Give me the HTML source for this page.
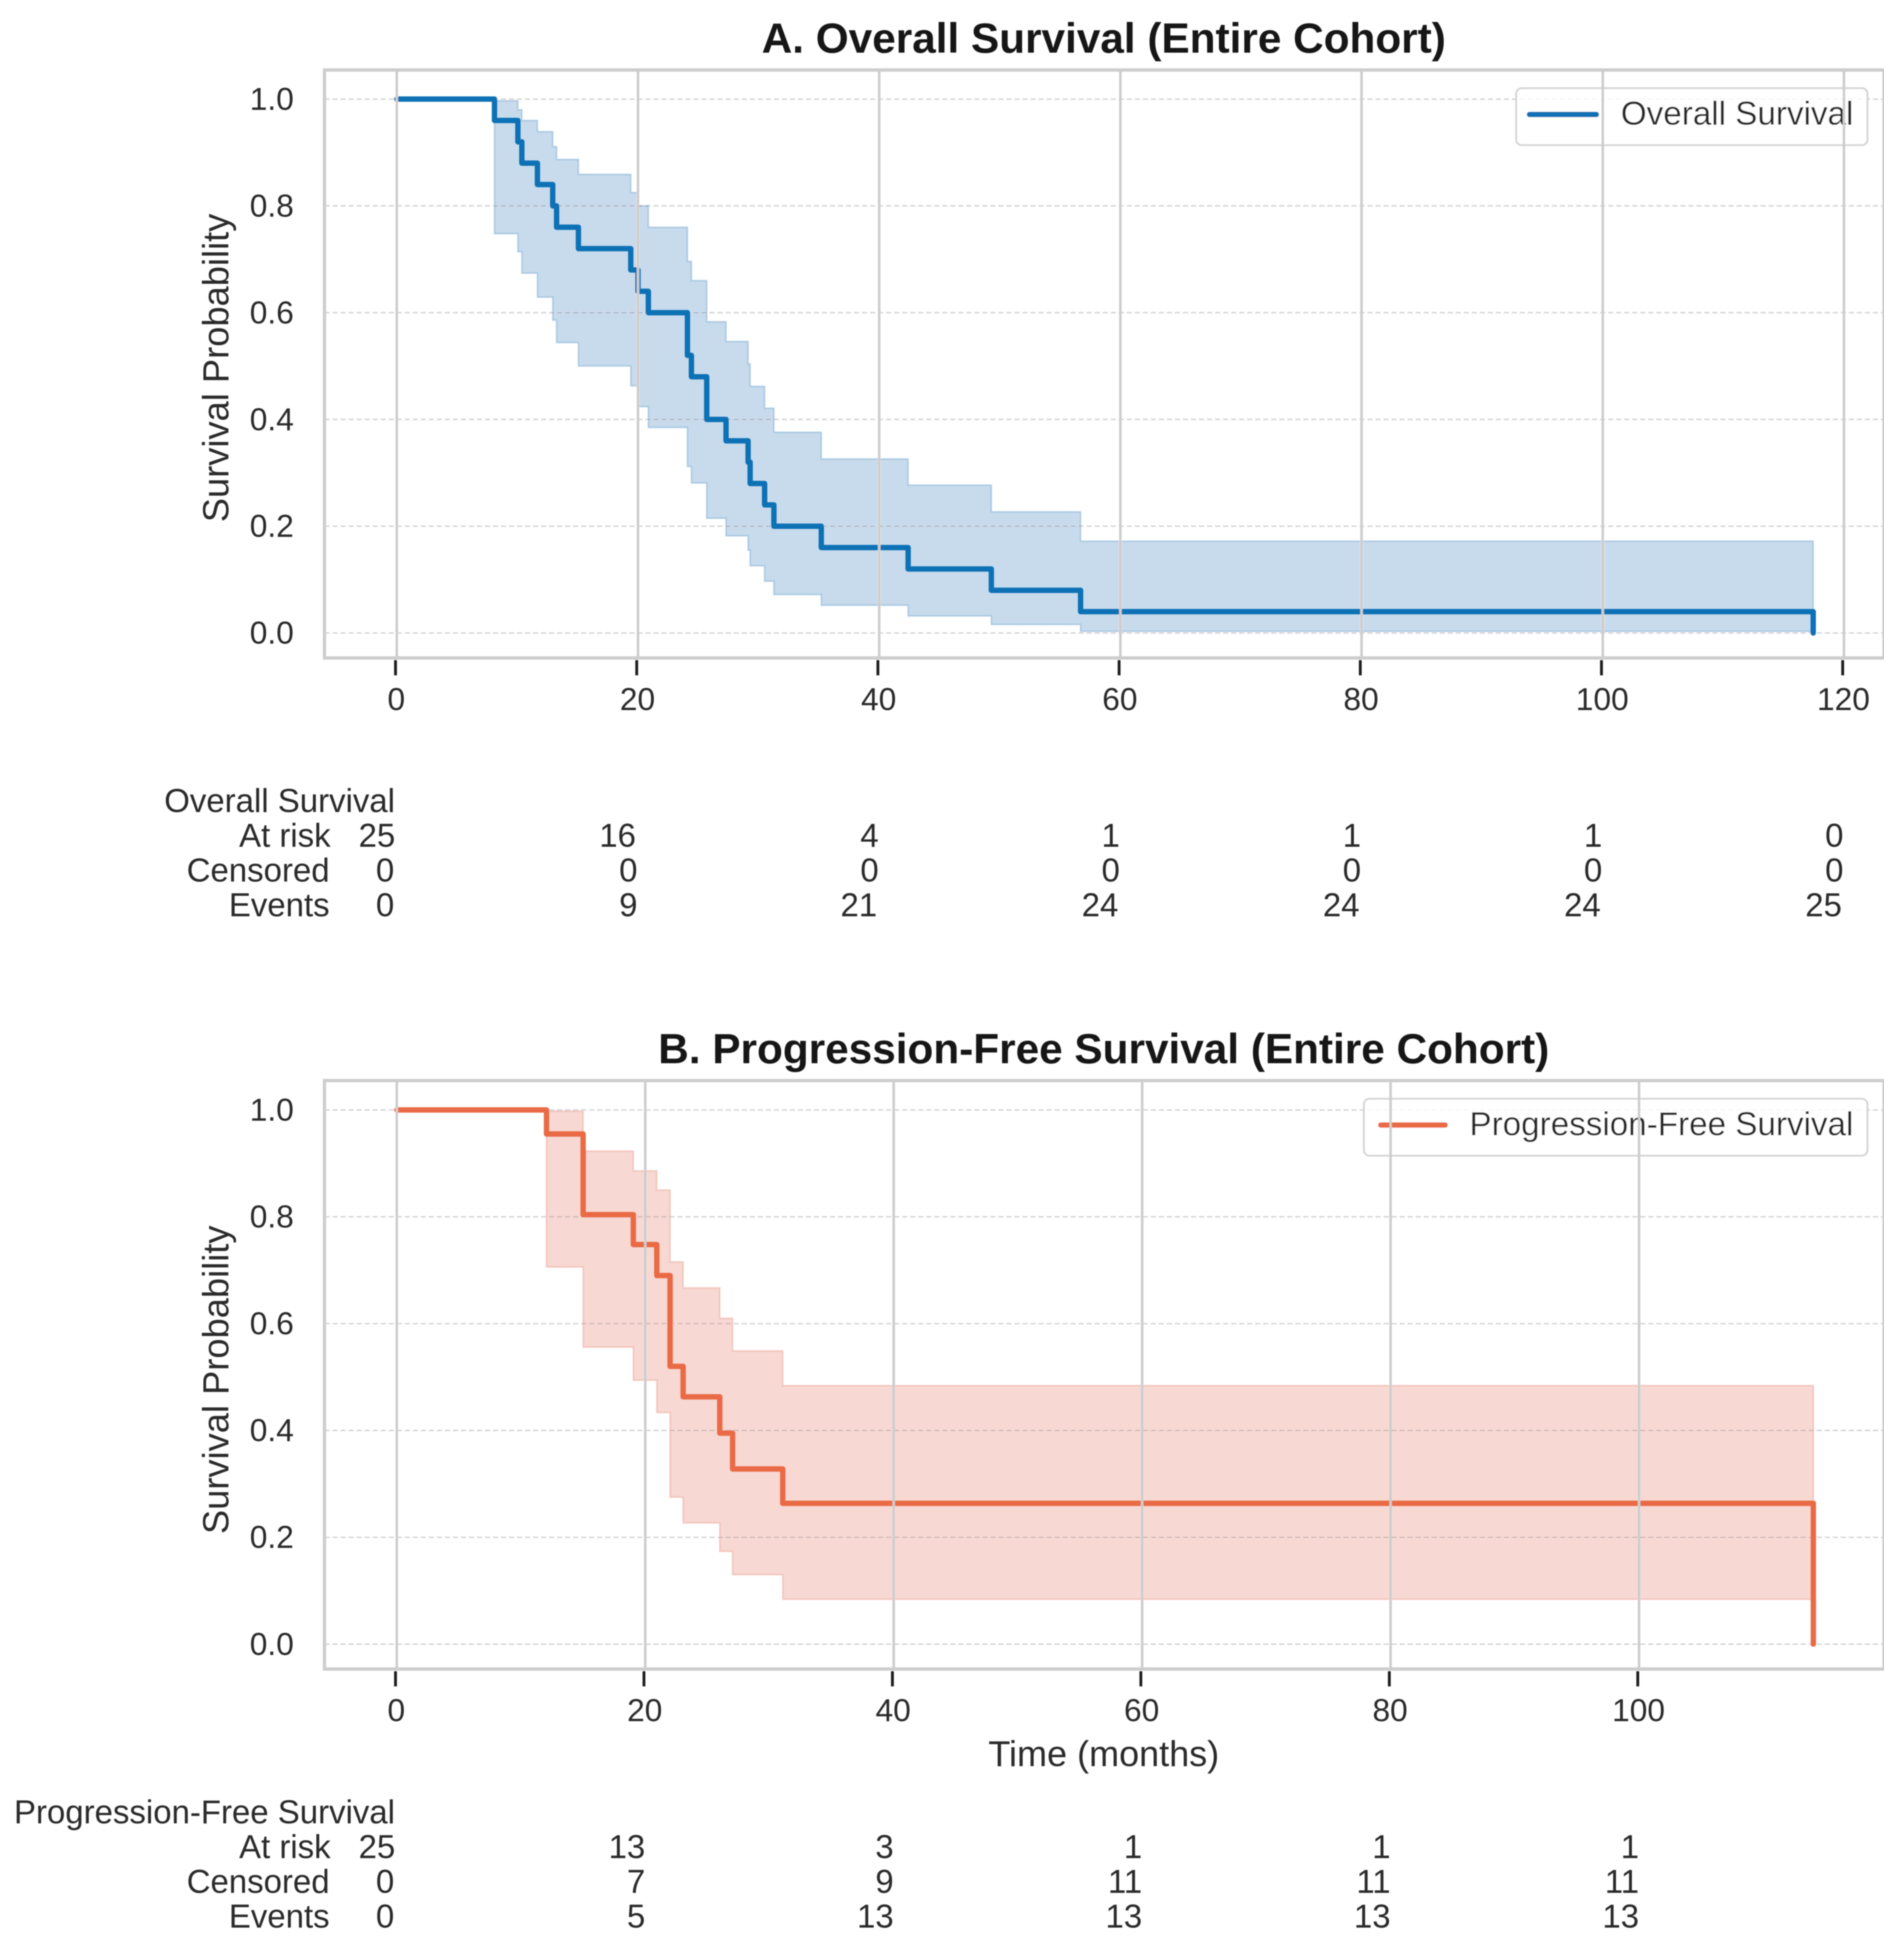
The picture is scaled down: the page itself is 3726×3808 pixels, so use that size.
<!DOCTYPE html>
<html lang="en">
<head>
<meta charset="utf-8">
<title>Kaplan-Meier survival curves</title>
<style>
html,body{margin:0;padding:0;background:#fff;}
svg{display:block;}
text{font-family:"Liberation Sans",Arial,sans-serif;fill:#2b2b2b;}
</style>
</head>
<body>
<svg id="chart" xmlns="http://www.w3.org/2000/svg" width="3726" height="3808" viewBox="0 0 3726 3808">
<defs><filter id="soft" x="0" y="0" width="100%" height="100%"><feGaussianBlur stdDeviation="1.1"/></filter></defs>
<rect width="3726" height="3808" fill="#ffffff"/>
<g id="root" filter="url(#soft)"></g>
</svg>
<script>
// Panel A: overall survival
const osTimes = [8.1,10.04,10.37,11.66,12.93,13.25,15.06,19.4,20.0,20.86,24.1,24.43,25.7,27.3,29.13,29.3,30.5,31.27,35.2,42.4,49.3,56.7,117.45];
const osSurvival = [0.96,0.92,0.88,0.84,0.80,0.76,0.72,0.68,0.64,0.60,0.52,0.48,0.40,0.36,0.32,0.28,0.24,0.20,0.16,0.12,0.08,0.04,0];
const osUpper = [0.997,0.98,0.96,0.939,0.911,0.887,0.859,0.825,0.80,0.76,0.696,0.66,0.583,0.546,0.504,0.462,0.421,0.376,0.326,0.277,0.227,0.172,0.172];
const osLower = [0.748,0.714,0.674,0.629,0.586,0.544,0.50,0.463,0.424,0.385,0.312,0.281,0.215,0.182,0.155,0.126,0.097,0.072,0.052,0.032,0.016,0.003,0.003];
const osXTicks = [0,20,40,60,80,100,120];
const osAtRisk = [25,16,4,1,1,1,0];
const osCensored = [0,0,0,0,0,0,0];
const osEvents = [0,9,21,24,24,24,25];

// Panel B: progression-free survival
const pfsTimes = [12.05,15.0,19.04,20.93,22.0,23.05,26.0,27.03,31.07,114.03];
const pfsSurvival = [0.955,0.804,0.748,0.69,0.52,0.463,0.395,0.328,0.2636,0];
const pfsUpper = [0.998,0.923,0.886,0.85,0.7155,0.667,0.61,0.549,0.484,0.484];
const pfsLower = [0.706,0.556,0.494,0.4335,0.275,0.227,0.1736,0.13,0.084,0.084];
const pfsXTicks = [0,20,40,60,80,100];
const pfsAtRisk = [25,13,3,1,1,1];
const pfsCensored = [0,7,9,11,11,11];
const pfsEvents = [0,5,13,13,13,13];

const yTicks = [0,0.2,0.4,0.6,0.8,1.0];
const yTickLabels = ['0.0','0.2','0.4','0.6','0.8','1.0'];

const NS = 'http://www.w3.org/2000/svg';
const root = document.getElementById('root');

function mk(parent, tag, attrs, content) {
  const el = document.createElementNS(NS, tag);
  for (const k in attrs) el.setAttribute(k, attrs[k]);
  if (content !== undefined) el.textContent = content;
  parent.appendChild(el);
  return el;
}

function drawPanel(cfg) {
  const g = mk(root, 'g', {});
  
  

  const xScale = t => cfg.x0 + t * cfg.xk;
  const yScale = v => cfg.y0 - v * cfg.yk;
  const L = cfg.left, R = cfg.right, T = cfg.top, B = cfg.bottom;

  const title = mk(g, 'text', {x: 2160, y: T - 34, 'font-size': 82.8, 'font-weight': 'bold', 'text-anchor': 'middle', style: 'fill:#141414'}, cfg.title);
  
  

  // horizontal dashed grid
  yTicks.forEach((v, i) => {
    const line = mk(g, 'line', {x1: L, x2: R, y1: yScale(v), y2: yScale(v), stroke: '#d2d2d2', 'stroke-width': 2.6, 'stroke-dasharray': '10 5.7'});
    
    
    const label = mk(g, 'text', {x: 575, y: yScale(v) + 21, 'font-size': 62, 'text-anchor': 'end'}, yTickLabels[i]);
    
    
  });

  // legend frame
  const legend = mk(g, 'g', {});
  
  
  const frame = mk(legend, 'rect', {x: cfg.legendLeft, y: T + 35.5, width: 3654.5 - cfg.legendLeft, height: 111.5, rx: 11, fill: '#ffffff', 'fill-opacity': 0.8, stroke: '#d4d4d4', 'stroke-width': 3.6});
  
  
  const sample = mk(legend, 'line', {x1: cfg.legendLineStart, x2: cfg.legendLineEnd, y1: T + 87, y2: T + 87, stroke: cfg.color, 'stroke-width': 10.5, 'stroke-linecap': 'round'});
  
  
  const legendText = mk(legend, 'text', {x: 3627, y: T + 107, 'font-size': 65, 'text-anchor': 'end'}, cfg.name);
  
  

  // confidence band
  const n = cfg.times.length;
  let top = '', bot = '';
  for (let i = 0; i < n - 1; i++) {
    top += xScale(cfg.times[i]) + ',' + yScale(cfg.upper[i]) + ' ' + xScale(cfg.times[i + 1]) + ',' + yScale(cfg.upper[i]) + ' ';
    bot = xScale(cfg.times[i + 1]) + ',' + yScale(cfg.lower[i]) + ' ' + xScale(cfg.times[i]) + ',' + yScale(cfg.lower[i]) + ' ' + bot;
  }
  const band = mk(g, 'polygon', {points: top + bot, fill: cfg.band, 'fill-opacity': 0.25, stroke: cfg.band, 'stroke-opacity': 0.25, 'stroke-width': 3});
  
  

  // survival step line
  let d = 'M' + xScale(0) + ' ' + yScale(1);
  let prev = 1;
  for (let i = 0; i < n; i++) {
    d += ' L' + xScale(cfg.times[i]) + ' ' + yScale(prev);
    d += ' L' + xScale(cfg.times[i]) + ' ' + yScale(cfg.surv[i]);
    prev = cfg.surv[i];
  }
  const curve = mk(g, 'path', {d: d, fill: 'none', stroke: cfg.color, 'stroke-width': 10.5, 'stroke-linejoin': 'round', 'stroke-linecap': 'round'});
  
  

  // vertical grid, ticks, tick labels
  cfg.xTicks.forEach(t => {
    const line = mk(g, 'line', {x1: xScale(t), x2: xScale(t), y1: T, y2: B, stroke: '#cdcdcd', 'stroke-width': 5});
    
    
    const tick = mk(g, 'line', {x1: xScale(t) - 2.5, x2: xScale(t) - 2.5, y1: B + 4, y2: B + 34, stroke: '#1c1c1c', 'stroke-width': 5.5});
    
    
    const label = mk(g, 'text', {x: xScale(t) - 1, y: B + 102, 'font-size': 62, 'text-anchor': 'middle'}, String(t));
    
    
  });

  // spines
  const spine = mk(g, 'rect', {x: L, y: T, width: R - L, height: B - T, fill: 'none', stroke: '#cecece', 'stroke-width': 6.5});
  
  

  const yTitle = mk(g, 'text', {x: 0, y: 0, 'font-size': 71, 'text-anchor': 'middle', transform: 'translate(447 ' + cfg.yTitleY + ') rotate(-90)'}, 'Survival Probability');
  
  

  // at-risk table
  const table = mk(g, 'g', {});
  
  
  const head = mk(table, 'text', {x: 773, y: cfg.rowY, 'font-size': 64.5, 'text-anchor': 'end'}, cfg.name);
  
  
  const rows = [['At risk', cfg.atRisk, 647], ['Censored', cfg.censored, 645], ['Events', cfg.events, 645]];
  rows.forEach((row, r) => {
    const y = cfg.rowY + 68 * (r + 1);
    const rowLabel = mk(table, 'text', {x: row[2], y: y, 'font-size': 64.5, 'text-anchor': 'end'}, row[0]);
    
    
    row[1].forEach((val, c) => {
      const s = String(val);
      const offset = c === 0 ? (s.length > 1 ? -3 : -5) : (s.length > 1 ? cfg.tableOffsetDouble : cfg.tableOffsetSingle);
      const cell = mk(table, 'text', {x: xScale(cfg.xTicks[c]) + offset, y: y, 'font-size': 64.5, 'text-anchor': 'end'}, s);
      
      
    });
  });
}

drawPanel({
  id: 'overall-survival', title: 'A. Overall Survival (Entire Cohort)', name: 'Overall Survival',
  times: osTimes, surv: osSurvival, upper: osUpper, lower: osLower, xTicks: osXTicks,
  atRisk: osAtRisk, censored: osCensored, events: osEvents,
  color: '#0f71b5', band: '#1b6fb3',
  x0: 776.5, xk: 23.6, y0: 1238.7, yk: 1044.8,
  left: 635, right: 3687, top: 137, bottom: 1287.5,
  legendLeft: 2967, legendLineStart: 2993, legendLineEnd: 3124,
  yTitleY: 720, rowY: 1589,
  tableOffsetSingle: -1, tableOffsetDouble: -4
});

drawPanel({
  id: 'progression-free-survival', title: 'B. Progression-Free Survival (Entire Cohort)', name: 'Progression-Free Survival',
  times: pfsTimes, surv: pfsSurvival, upper: pfsUpper, lower: pfsLower, xTicks: pfsXTicks,
  atRisk: pfsAtRisk, censored: pfsCensored, events: pfsEvents,
  color: '#e96a45', band: '#df634b',
  x0: 776.5, xk: 24.31, y0: 3217.3, yk: 1045.3,
  left: 635, right: 3687, top: 2114.5, bottom: 3266,
  legendLeft: 2669, legendLineStart: 2702, legendLineEnd: 2828,
  yTitleY: 2700, rowY: 3568,
  tableOffsetSingle: 0, tableOffsetDouble: 0
});

const xTitle = mk(root, 'text', {x: 2160, y: 3456, 'font-size': 70.5, 'text-anchor': 'middle'}, 'Time (months)');


</script>
</body>
</html>
